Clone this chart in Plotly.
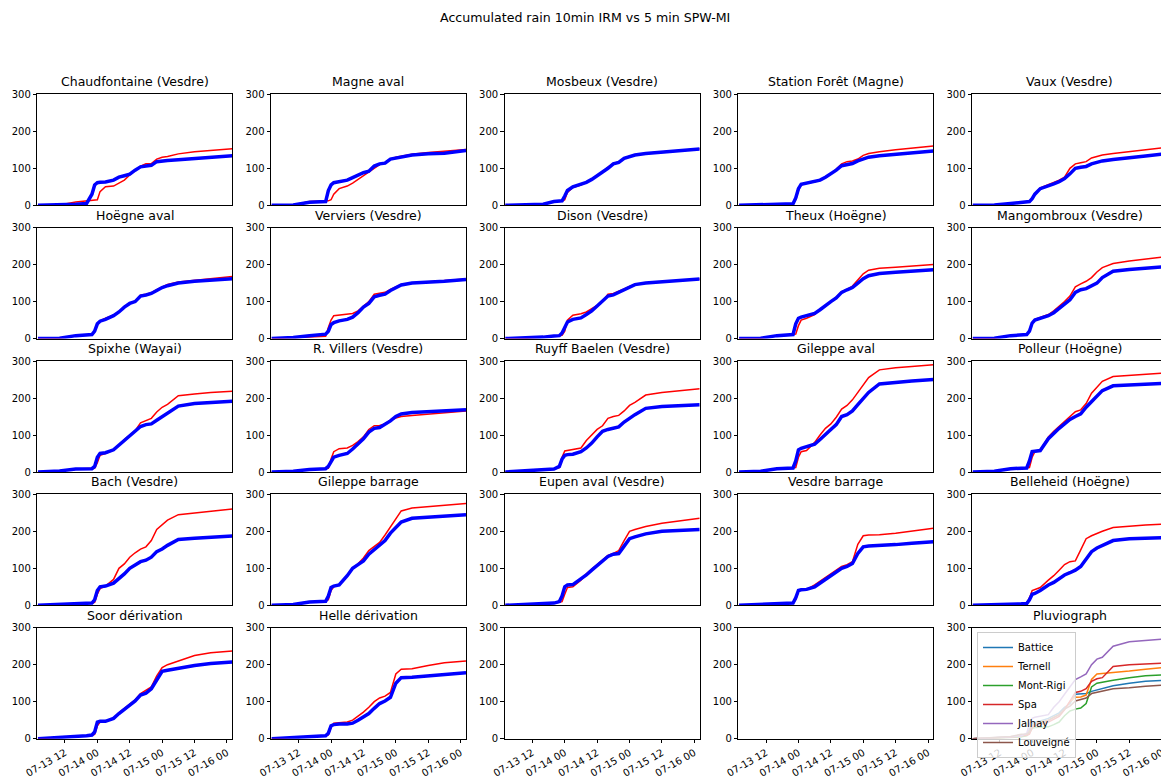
import plotly.graph_objects as go

times = ["2021-07-13 02:00", "2021-07-13 10:00", "2021-07-13 16:00", "2021-07-13 20:00",
         "2021-07-13 22:00", "2021-07-13 23:00", "2021-07-14 00:00", "2021-07-14 01:00",
         "2021-07-14 03:00", "2021-07-14 06:00", "2021-07-14 08:00", "2021-07-14 10:00",
         "2021-07-14 12:00", "2021-07-14 14:00", "2021-07-14 16:00", "2021-07-14 18:00",
         "2021-07-14 20:00", "2021-07-14 22:00", "2021-07-15 00:00", "2021-07-15 02:00",
         "2021-07-15 06:00", "2021-07-15 12:00", "2021-07-15 18:00", "2021-07-16 02:00"]

tick_vals = ["2021-07-13 12:00", "2021-07-14 00:00", "2021-07-14 12:00",
             "2021-07-15 00:00", "2021-07-15 12:00", "2021-07-16 00:00"]
tick_text = ["07-13 12", "07-14 00", "07-14 12", "07-15 00", "07-15 12", "07-16 00"]

station_names = ["Chaudfontaine (Vesdre)", "Magne aval", "Mosbeux (Vesdre)", "Station Forêt (Magne)", "Vaux (Vesdre)",
                 "Hoëgne aval", "Verviers (Vesdre)", "Dison (Vesdre)", "Theux (Hoëgne)", "Mangombroux (Vesdre)",
                 "Spixhe (Wayai)", "R. Villers (Vesdre)", "Ruyff Baelen (Vesdre)", "Gileppe aval", "Polleur (Hoëgne)",
                 "Bach (Vesdre)", "Gileppe barrage", "Eupen aval (Vesdre)", "Vesdre barrage", "Belleheid (Hoëgne)",
                 "Soor dérivation", "Helle dérivation"]

# red = 10min IRM, blue = 5 min SPW-MI
chaud_red = [0, 1, 9, 11, 12, 14, 15, 37, 50, 52, 60, 68, 82, 95, 106, 112, 113, 125, 130, 132, 139, 145, 149, 153]
chaud_blue = [0, 1, 3, 5, 30, 55, 61, 62, 63, 68, 76, 80, 84, 95, 104, 106, 108, 118, 120, 121, 123, 127, 130, 134]
magne_red = [0, 1, 10, 11, 11, 12, 15, 30, 45, 52, 60, 70, 80, 88, 100, 110, 114, 125, 130, 133, 138, 143, 147, 151]
magne_blue = [0, 1, 8, 9, 10, 40, 55, 61, 64, 68, 75, 82, 88, 92, 106, 112, 114, 125, 128, 132, 136, 139, 141, 148]
mosbeux_red = [0, 1, 3, 10, 11, 11, 15, 35, 48, 55, 62, 70, 80, 90, 103, 113, 117, 128, 133, 137, 141, 145, 148, 153]
mosbeux_blue = [0, 1, 3, 10, 11, 12, 25, 40, 50, 56, 62, 70, 80, 88, 100, 112, 116, 127, 132, 136, 140, 144, 147, 152]
foret_red = [0, 1, 2, 3, 4, 15, 40, 55, 60, 63, 68, 75, 84, 97, 112, 118, 120, 125, 135, 140, 145, 150, 155, 160]
foret_blue = [0, 1, 2, 3, 4, 20, 45, 57, 60, 63, 68, 76, 85, 95, 107, 110, 113, 120, 126, 130, 134, 138, 142, 147]
vaux_red = [0, 1, 5, 9, 10, 10, 18, 30, 47, 55, 62, 68, 76, 100, 112, 115, 118, 128, 133, 136, 140, 145, 150, 157]
vaux_blue = [0, 1, 5, 9, 10, 10, 18, 30, 45, 52, 58, 64, 72, 85, 100, 103, 105, 112, 117, 120, 124, 128, 133, 140]

hoegne_red = [0, 1, 8, 10, 11, 18, 38, 48, 55, 63, 73, 86, 96, 102, 117, 120, 124, 132, 140, 146, 153, 158, 163, 168]
hoegne_blue = [0, 1, 8, 10, 11, 20, 40, 47, 52, 62, 72, 85, 95, 100, 115, 118, 122, 130, 138, 143, 150, 155, 158, 162]
verviers_red = [0, 3, 5, 6, 6, 30, 50, 62, 64, 66, 68, 75, 88, 100, 120, 122, 125, 133, 140, 146, 150, 153, 156, 161]
verviers_blue = [0, 3, 8, 11, 12, 20, 38, 43, 48, 52, 58, 70, 85, 95, 113, 117, 120, 130, 138, 145, 150, 152, 155, 160]
dison_red = [0, 1, 4, 7, 8, 9, 20, 50, 63, 67, 72, 80, 90, 100, 120, 122, 127, 134, 141, 146, 150, 153, 156, 161]
dison_blue = [0, 1, 4, 7, 8, 15, 30, 45, 52, 56, 65, 75, 88, 100, 115, 118, 125, 133, 140, 146, 150, 153, 156, 161]
theux_red = [0, 1, 8, 10, 11, 12, 35, 50, 55, 65, 78, 90, 102, 112, 127, 133, 142, 158, 175, 185, 190, 193, 196, 200]
theux_blue = [0, 1, 8, 10, 11, 40, 55, 58, 62, 68, 78, 90, 100, 110, 125, 132, 138, 150, 162, 170, 176, 179, 182, 186]
mangombroux_red = [0, 1, 8, 10, 11, 20, 42, 52, 58, 65, 75, 87, 100, 115, 140, 148, 155, 165, 180, 192, 203, 210, 215, 222]
mangombroux_blue = [0, 1, 8, 10, 11, 20, 42, 50, 55, 62, 70, 82, 92, 105, 125, 132, 135, 142, 150, 165, 182, 187, 190, 195]

spixhe_red = [0, 3, 8, 8, 9, 10, 25, 45, 50, 60, 73, 88, 100, 112, 133, 140, 145, 162, 175, 183, 206, 211, 215, 218]
spixhe_blue = [0, 3, 8, 8, 9, 15, 40, 50, 52, 60, 72, 87, 98, 108, 123, 128, 130, 140, 150, 158, 178, 185, 188, 191]
villers_red = [0, 2, 7, 8, 9, 10, 35, 55, 63, 65, 72, 82, 95, 115, 125, 126, 130, 140, 146, 150, 153, 156, 160, 165]
villers_blue = [0, 2, 7, 8, 9, 15, 30, 40, 45, 50, 62, 75, 90, 108, 118, 120, 128, 138, 150, 157, 161, 163, 165, 168]
ruyff_red = [0, 4, 8, 8, 12, 40, 57, 58, 60, 65, 85, 100, 115, 125, 145, 150, 153, 165, 180, 188, 208, 215, 219, 225]
ruyff_blue = [0, 4, 8, 8, 15, 35, 45, 47, 48, 55, 65, 78, 95, 110, 115, 118, 122, 135, 145, 155, 172, 177, 179, 182]
gileppe_aval_red = [0, 2, 9, 10, 11, 12, 40, 55, 58, 80, 100, 118, 130, 148, 170, 180, 195, 215, 235, 255, 276, 282, 285, 290]
gileppe_aval_blue = [0, 2, 9, 10, 11, 30, 60, 64, 68, 75, 88, 100, 115, 128, 150, 155, 165, 182, 197, 215, 238, 243, 246, 250]
polleur_red = [0, 2, 9, 10, 11, 12, 40, 55, 58, 95, 110, 123, 135, 150, 163, 168, 185, 213, 228, 245, 258, 261, 264, 268]
polleur_blue = [0, 2, 9, 10, 11, 30, 55, 56, 58, 90, 105, 118, 130, 142, 150, 157, 175, 190, 205, 220, 233, 235, 237, 240]

bach_red = [0, 2, 5, 5, 6, 8, 30, 45, 52, 70, 100, 112, 130, 142, 152, 158, 175, 205, 218, 230, 245, 250, 253, 260]
bach_blue = [0, 2, 5, 5, 6, 15, 40, 50, 52, 60, 72, 85, 100, 110, 118, 122, 130, 145, 152, 162, 178, 181, 183, 187]
gileppe_bar_red = [0, 2, 9, 10, 11, 15, 40, 50, 55, 80, 100, 112, 128, 148, 160, 170, 190, 212, 235, 255, 263, 266, 269, 275]
gileppe_bar_blue = [0, 2, 9, 10, 11, 25, 48, 52, 55, 80, 100, 110, 120, 138, 150, 160, 175, 195, 210, 225, 235, 238, 240, 245]
eupen_red = [0, 2, 5, 6, 8, 10, 30, 48, 50, 68, 85, 98, 110, 123, 135, 140, 148, 175, 200, 205, 213, 222, 228, 235]
eupen_blue = [0, 2, 5, 6, 10, 25, 50, 55, 56, 70, 82, 95, 107, 118, 132, 138, 140, 160, 180, 185, 193, 200, 203, 205]
vesdre_bar_red = [0, 2, 4, 5, 6, 15, 38, 42, 43, 55, 65, 75, 85, 95, 105, 110, 118, 165, 188, 190, 191, 195, 200, 208]
vesdre_bar_blue = [0, 2, 4, 5, 6, 20, 40, 42, 43, 50, 60, 70, 80, 90, 100, 105, 113, 140, 158, 160, 161, 164, 168, 172]
belleheid_red = [0, 1, 3, 4, 5, 20, 40, 42, 48, 68, 80, 95, 110, 118, 120, 150, 180, 188, 195, 200, 210, 214, 217, 220]
belleheid_blue = [0, 1, 3, 4, 5, 15, 30, 32, 40, 55, 62, 72, 82, 88, 95, 105, 125, 145, 155, 162, 175, 180, 182, 183]

soor_red = [0, 3, 5, 8, 10, 12, 35, 45, 47, 55, 70, 82, 95, 105, 122, 130, 140, 170, 192, 200, 210, 225, 232, 237]
soor_blue = [0, 3, 5, 8, 10, 18, 45, 47, 47, 55, 68, 80, 92, 102, 118, 123, 135, 160, 182, 185, 190, 198, 203, 207]
helle_red = [0, 3, 5, 7, 8, 10, 30, 42, 43, 45, 50, 60, 72, 85, 100, 110, 115, 125, 175, 188, 189, 198, 205, 210]
helle_blue = [0, 3, 5, 7, 8, 15, 35, 38, 40, 40, 42, 50, 60, 68, 82, 95, 102, 112, 150, 165, 166, 170, 175, 178]

# pluviographs
pluvio_names = ["Battice", "Ternell", "Mont-Rigi", "Spa", "Jalhay", "Louveigné"]
battice = [0, 2, 4, 6, 10, 25, 40, 45, 48, 55, 62, 70, 85, 95, 120, 120, 122, 128, 132, 137, 143, 150, 155, 158]
ternell = [0, 2, 4, 6, 10, 20, 35, 40, 45, 50, 58, 65, 80, 100, 112, 113, 118, 160, 175, 176, 178, 183, 188, 193]
mont_rigi = [0, 1, 3, 5, 8, 15, 28, 30, 30, 32, 38, 45, 62, 75, 80, 83, 95, 140, 150, 153, 158, 165, 170, 173]
spa = [0, 2, 4, 8, 9, 12, 30, 35, 38, 45, 52, 60, 78, 100, 125, 128, 135, 155, 162, 165, 195, 200, 203, 205]
jalhay = [0, 2, 5, 8, 15, 40, 55, 58, 60, 65, 85, 100, 120, 140, 160, 167, 175, 200, 215, 220, 250, 262, 266, 270]
louveigne = [0, 3, 6, 12, 13, 18, 35, 40, 42, 50, 58, 65, 80, 88, 102, 107, 110, 122, 125, 128, 135, 138, 142, 145]
pluvio_colors = ["#1f77b4", "#ff7f0e", "#2ca02c", "#d62728", "#9467bd", "#8c564b"]

red_series = [chaud_red, magne_red, mosbeux_red, foret_red, vaux_red,
              hoegne_red, verviers_red, dison_red, theux_red, mangombroux_red,
              spixhe_red, villers_red, ruyff_red, gileppe_aval_red, polleur_red,
              bach_red, gileppe_bar_red, eupen_red, vesdre_bar_red, belleheid_red,
              soor_red, helle_red]
blue_series = [chaud_blue, magne_blue, mosbeux_blue, foret_blue, vaux_blue,
               hoegne_blue, verviers_blue, dison_blue, theux_blue, mangombroux_blue,
               spixhe_blue, villers_blue, ruyff_blue, gileppe_aval_blue, polleur_blue,
               bach_blue, gileppe_bar_blue, eupen_blue, vesdre_bar_blue, belleheid_blue,
               soor_blue, helle_blue]
pluvio_series = [battice, ternell, mont_rigi, spa, jalhay, louveigne]

# the page puts the figure 8px in from the top-left corner of the window
OFF = 8
W, H = 1169 - OFF, 781 - OFF
col_left = [37.3, 271, 504.7, 738.4, 972.1]
row_top = [94.3, 227.6, 361, 494.3, 627.7]
AX_W, AX_H = 195, 111
FONT = "DejaVu Sans"

fig = go.Figure()
layout = dict(width=W, height=H, margin=dict(l=0, r=0, t=0, b=0, autoexpand=False),
              paper_bgcolor="white", plot_bgcolor="white",
              font=dict(family=FONT, size=10, color="black"),
              annotations=[])


def axref(k):
    return ("x", "y") if k == 1 else ("x%d" % k, "y%d" % k)


def fx(px):
    return (px - OFF) / W


def fy(py):
    return 1 - (py - OFF) / H


for i in range(25):
    r, c = divmod(i, 5)
    k = i + 1
    xr, yr = axref(k)
    x0 = fx(col_left[c])
    x1 = fx(col_left[c] + AX_W)
    y1 = fy(row_top[r])
    y0 = fy(row_top[r] + AX_H)
    bottom = r == 4
    layout["xaxis" if k == 1 else "xaxis%d" % k] = dict(
        domain=[x0, x1], anchor=yr, type="date", automargin=False,
        range=["2021-07-13 01:45", "2021-07-16 02:00"],
        tickvals=tick_vals, ticktext=tick_text, tickangle=-30,
        showticklabels=bottom, ticks="outside" if bottom else "",
        ticklen=3.5, tickwidth=1, tickcolor="black",
        showline=True, mirror=True, linecolor="black", linewidth=1,
        showgrid=False, zeroline=False, tickfont=dict(size=10))
    layout["yaxis" if k == 1 else "yaxis%d" % k] = dict(
        domain=[y0, y1], anchor=xr, range=[0, 300], automargin=False,
        tickvals=[0, 100, 200, 300], ticks="outside", ticklen=3.5, tickwidth=1,
        tickcolor="black", showline=True, mirror=True, linecolor="black",
        linewidth=1, showgrid=False, zeroline=False, tickfont=dict(size=10))

    if i < len(station_names):
        title = station_names[i]
        fig.add_trace(go.Scatter(x=times, y=red_series[i], mode="lines",
                                 line=dict(color="red", width=1.5),
                                 xaxis=xr, yaxis=yr, showlegend=False))
        fig.add_trace(go.Scatter(x=times, y=blue_series[i], mode="lines",
                                 line=dict(color="blue", width=3.5),
                                 xaxis=xr, yaxis=yr, showlegend=False))
    elif i == 24:
        title = "Pluviograph"
        for name, vals, col in zip(pluvio_names, pluvio_series, pluvio_colors):
            fig.add_trace(go.Scatter(x=times, y=vals, mode="lines", name=name,
                                     line=dict(color=col, width=1.5),
                                     xaxis=xr, yaxis=yr))
    else:
        title = None
        fig.add_trace(go.Scatter(x=[], y=[], mode="lines", xaxis=xr, yaxis=yr,
                                 showlegend=False))

    if title:
        layout["annotations"].append(dict(
            text=title, x=(x0 + x1) / 2, y=y1 + 3 / H, xref="paper", yref="paper",
            xanchor="center", yanchor="bottom", showarrow=False,
            font=dict(size=12.5, family=FONT, color="black")))

layout["annotations"].append(dict(
    text="Accumulated rain 10min IRM vs 5 min SPW-MI", x=fx(584.5), y=fy(17),
    xref="paper", yref="paper", xanchor="center", yanchor="middle",
    showarrow=False, font=dict(size=12.6, family=FONT, color="black")))

layout["legend"] = dict(x=fx(977), y=fy(632), xanchor="left", yanchor="top",
                        bgcolor="rgba(255,255,255,0.8)", bordercolor="#cccccc",
                        borderwidth=1, font=dict(size=10, family=FONT),
                        itemwidth=30, tracegroupgap=0)

fig.update_layout(**layout)
fig.write_html("out.html")
